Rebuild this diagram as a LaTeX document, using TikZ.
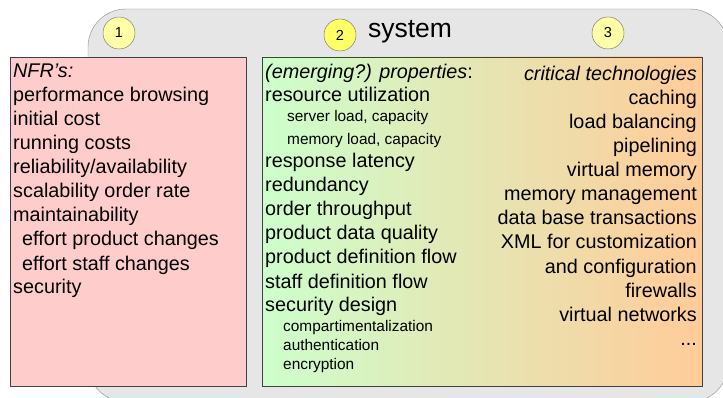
\documentclass[tikz,border=0pt]{standalone}
\usepackage{fontspec}
\setmainfont{Liberation Sans}
\usetikzlibrary{shadows}

\definecolor{sysgray}{HTML}{E6E6E6}
\definecolor{nfrpink}{HTML}{FFCCCC}
\definecolor{propgreen}{HTML}{CCFFCC}
\definecolor{techorange}{HTML}{FFCC99}
\definecolor{paleyellow}{HTML}{FFFFA8}
\definecolor{brightyellow}{HTML}{FFFF66}

\begin{document}
\begin{tikzpicture}[x=1pt,y=-1pt,
    sysbox/.style={draw=gray!90, fill=sysgray, rounded corners=38pt, minimum width=640pt, minimum height=393pt, inner sep=0pt},
    panel/.style={draw=black!75, line width=0.8pt, minimum height=329pt, inner sep=0pt, drop shadow={shadow xshift=1.2pt, shadow yshift=-1.2pt, opacity=0.5}},
    marker/.style={circle, draw=black!60, fill=paleyellow, minimum size=32pt, inner sep=0pt, font=\fontsize{14.5}{14.5}\selectfont},
    bigtext/.style={font=\fontsize{19.8}{19.8}\selectfont, inner sep=0pt},
    smalltext/.style={font=\fontsize{15.4}{15.4}\selectfont, inner sep=0pt}]
    \useasboundingbox (0,0) rectangle (723,398);

    % frame of the system
    \node[sysbox] (system) at (408,205.5) {};
    \node[anchor=base, inner sep=0pt, font=\fontsize{26.5}{26.5}\selectfont] (systitle) at (410,38) {system};
    \node[marker] (m1) at (119,33) {1};
    \node[marker, fill=brightyellow] (m2) at (340,35) {2};
    \node[marker] (m3) at (608,33) {3};

    % the two panels
    \node[panel, fill=nfrpink, minimum width=236pt] (nfr) at (128,221.5) {};
    \node[panel, left color=propgreen, right color=techorange, minimum width=440pt] (props) at (482,221.5) {};

    % NFR's
    \foreach \xx/\yy/\txt [count=\i] in {13/78/{\textit{NFR's:}}, 13/102/performance browsing, 13/126/initial cost,
        13/150/running costs, 13/174/{reliability/availability}, 13/198/scalability order rate,
        13/222/maintainability, 22/246/effort product changes, 22/270/effort staff changes, 13/294/security}
        \node[bigtext, anchor=base west] (nfr\i) at (\xx,\yy) {\txt};

    % properties
    \foreach \yy/\txt [count=\i] in {79/{\textit{(emerging?) properties}:}, 102/resource utilization, 168/response latency,
        192/redundancy, 216/order throughput, 240/product data quality, 264/product definition flow,
        288/staff definition flow, 311/security design}
        \node[bigtext, anchor=base west] (prop\i) at (265,\yy) {\txt};
    \foreach \xx/\yy/\txt [count=\i] in {287/122/{server load, capacity}, 287/145/{memory load, capacity},
        283/331/compartimentalization, 283/350/authentication, 283/369/encryption}
        \node[smalltext, anchor=base west] (sub\i) at (\xx,\yy) {\txt};

    % technologies
    \foreach \txt [count=\i] in {{\textit{critical technologies}}, caching, load balancing, pipelining, virtual memory,
        memory management, data base transactions, XML for customization, and configuration,
        firewalls, virtual networks}
        \node[bigtext, anchor=base east] (tech\i) at (697,57+24*\i) {\txt};
    \node[bigtext, anchor=base east] (techmore) at (697,345) {.\kern0pt.\kern0pt.};
\end{tikzpicture}
\end{document}
